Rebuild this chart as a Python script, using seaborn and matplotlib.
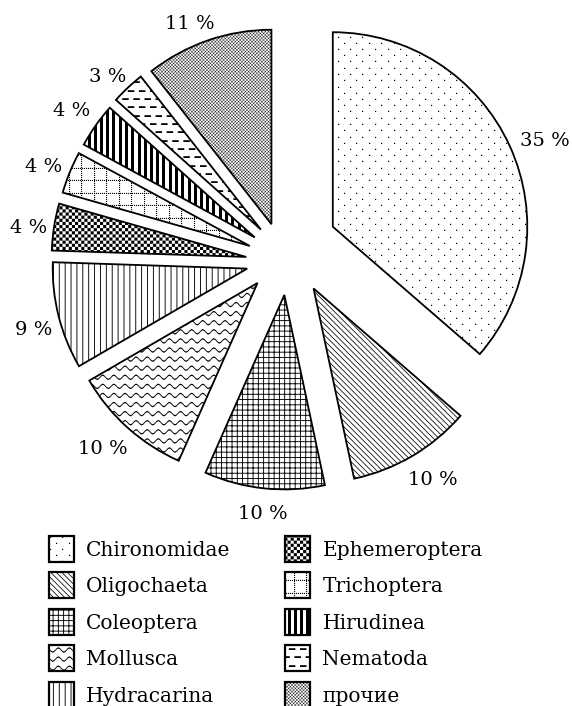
import numpy as np
import matplotlib
matplotlib.use("Agg")
import matplotlib.pyplot as plt
import matplotlib.hatch as mhatch
from matplotlib.path import Path
import seaborn as sns

# ---------------- data ----------------
taxa = ["Chironomidae", "Oligochaeta", "Coleoptera", "Mollusca", "Hydracarina",
        "Ephemeroptera", "Trichoptera", "Hirudinea", "Nematoda", "прочие"]
shares = [36.4, 10.3, 10.0, 10.0, 8.9, 3.9, 3.5, 3.7, 2.8, 10.6]   # slice sizes as drawn
pct_labels = [35, 10, 10, 10, 9, 4, 4, 4, 3, 11]                    # printed percentages

# ---------------- styling ----------------
explode = [0.289, 0.218, 0.196, 0.196, 0.205, 0.201, 0.191, 0.186, 0.188, 0.182]
explode_turn = [7.8, 11.2, 4.5, -4.8, 3.1, 9.1, 5.2, 2.7, -1.3, 4.0]   # degrees
hatches = ['.', '\\', '+', 'o', '|', 'O', '*', '/', '-', 'x']
label_dist = [1.18, 1.15, 1.12, 1.16, 1.14, 1.13, 1.14, 1.15, 1.12, 1.12]
label_turn = [-2.2, 1.7, 0.2, -1.3, 1.5, 0.9, 0.9, 0.0, 1.5, 3.0]

W, H = 572, 706
R_PX, CX, CY = 194.5, 285.3, 256.8

# ---------------- custom hatch patterns ----------------
M, L, C = Path.MOVETO, Path.LINETO, Path.CLOSEPOLY


def _poly(pts):
    pts = list(pts)
    return pts + [pts[0]], [M] + [L] * (len(pts) - 1) + [C]


def _rect(x0, y0, x1, y1):
    return _poly([(x0, y0), (x1, y0), (x1, y1), (x0, y1)])


def _join(parts):
    v, c = [], []
    for pv, pc in parts:
        v.extend(pv)
        c.extend(pc)
    return np.array(v, float), np.array(c, dtype=Path.code_type)


def _diag_back(k, w):   # '\' band: k <= x + y <= k + w
    return _poly([(k + 0.1, -0.1), (k + 0.1 + w, -0.1), (k - 1.1 + w, 1.1), (k - 1.1, 1.1)])


def _diag_fwd(k, w):    # '/' band: k <= x - y <= k + w
    return _poly([(k - 0.1, -0.1), (k - 0.1 + w, -0.1), (k + 1.1 + w, 1.1), (k + 1.1, 1.1)])


def pat_dots():
    parts = []
    for j in range(16):
        y = round(j * 100 / 16) / 100
        off = 6.25 if j % 2 else 0.0
        for i in range(8):
            x = round(i * 12.5 + off) / 100
            parts.append(_rect(x, y, x + 0.012, y + 0.012))
    return _join(parts)


def pat_back_lines():
    s, w = 1 / 18, 0.011
    return _join([_diag_back(n * s, w) for n in range(-3, 40)])


def pat_grid():
    n, w = 19, 0.009
    parts = []
    for i in range(n):
        x = i / n
        parts.append(_rect(x, -0.01, x + w, 1.01))
        parts.append(_rect(-0.01, x, 1.01, x + w))
    return _join(parts)


def pat_waves():
    parts = []
    xs = np.linspace(-0.02, 1.02, 500)
    for j in range(11):
        y0 = (j + 0.5) / 11
        yc = y0 + 0.02 * np.sin(2 * np.pi * 9 * xs)
        bottom = list(zip(xs, yc - 0.0065))
        top = list(zip(xs[::-1], (yc + 0.0065)[::-1]))
        parts.append(_poly(bottom + top))
    return _join(parts)


def pat_vlines():
    n, w = 17, 0.009
    return _join([_rect(i / n, -0.01, i / n + w, 1.01) for i in range(n)])


def pat_checker():
    n = 32
    parts = []
    for i in range(n):
        for j in range(n):
            if (i + j) % 2 == 0:
                parts.append(_rect(i / n, j / n, (i + 1) / n, (j + 1) / n))
    return _join(parts)


def pat_dotgrid():
    parts = []
    lines = [round((i + 0.5) * 12.5) / 100 for i in range(8)]
    for g in lines:
        for k in range(50):
            t = 2 * k / 100
            parts.append(_rect(g, t, g + 0.011, t + 0.011))
            parts.append(_rect(t, g, t + 0.011, g + 0.011))
    return _join(parts)


def pat_bars():
    parts = []
    for i in range(16):
        x = round(i * 6.25) / 100
        parts.append(_rect(x, -0.01, x + 0.03, 1.01))
    return _join(parts)


def pat_dashes():
    parts = []
    per = 1 / 9
    for j in range(12):
        y = round(j * 100 / 12) / 100
        off = per / 2 if j % 2 else 0.0
        for i in range(-1, 10):
            x = i * per + off
            parts.append(_rect(x, y, x + 0.065, y + 0.018))
    return _join(parts)


def pat_fine_cross():
    s, w = 1 / 30, 0.0055
    parts = [_diag_back(n * s, w) for n in range(-4, 70)]
    parts += [_diag_fwd(n * s, w) for n in range(-36, 36)]
    return _join(parts)


def _make(char, builder):
    verts, codes = builder()

    class _Pattern(mhatch.HatchPatternBase):
        def __init__(self, hatch, density):
            self.num_vertices = len(verts) if char in hatch else 0

        def set_vertices_and_codes(self, vertices, codes_out):
            vertices[:] = verts
            codes_out[:] = codes

    return _Pattern


mhatch._hatch_types[:] = [
    _make('.', pat_dots), _make('\\', pat_back_lines), _make('+', pat_grid),
    _make('o', pat_waves), _make('|', pat_vlines), _make('O', pat_checker),
    _make('*', pat_dotgrid), _make('/', pat_bars), _make('-', pat_dashes),
    _make('x', pat_fine_cross),
]

# ---------------- plot ----------------
sns.set_style("white")
plt.rcParams['font.family'] = ['DejaVu Serif']
plt.rcParams['text.color'] = 'black'
plt.rcParams['hatch.linewidth'] = 0.0
plt.rcParams['hatch.color'] = 'black'

fig = plt.figure(figsize=(W / 100, H / 100), dpi=100)
ax = fig.add_axes([0, 0, 1, 1])

wedges, texts = ax.pie(
    shares, explode=explode, labels=[f"{p} %" for p in pct_labels],
    startangle=90, counterclock=False, labeldistance=1.15, radius=1,
    hatch=hatches,
    wedgeprops=dict(facecolor='white', edgecolor='black', linewidth=1.3),
    textprops=dict(fontsize=14, color='black'))

# nudge the direction in which each slice is pulled out of the pie
for w, turn in zip(wedges, explode_turn):
    x, y = w.center
    a = np.deg2rad(turn)
    w.set_center((x * np.cos(a) - y * np.sin(a), x * np.sin(a) + y * np.cos(a)))

for w, t, d, turn in zip(wedges, texts, label_dist, label_turn):
    ang = np.deg2rad((w.theta1 + w.theta2) / 2 + turn)
    wx, wy = w.center
    t.set_position((wx + d * w.r * np.cos(ang), wy + d * w.r * np.sin(ang)))
    t.set_ha('center')
    t.set_va('center_baseline')

ax.set_xlim(-CX / R_PX, (W - CX) / R_PX)
ax.set_ylim(-(H - CY) / R_PX, CY / R_PX)
ax.set_aspect('auto')
ax.axis('off')

leg = ax.legend(wedges, taxa, loc='upper left',
                bbox_to_anchor=(49 / W, 1 - 536 / H), bbox_transform=fig.transFigure,
                ncol=2, frameon=False, borderpad=0, borderaxespad=0,
                fontsize=14.5, handlelength=1.24, handleheight=1.61,
                handletextpad=0.6, columnspacing=2.73, labelspacing=0.52)
for h in leg.legend_handles:
    h.set_linewidth(1.6)

fig.savefig('out.png', dpi=100)
